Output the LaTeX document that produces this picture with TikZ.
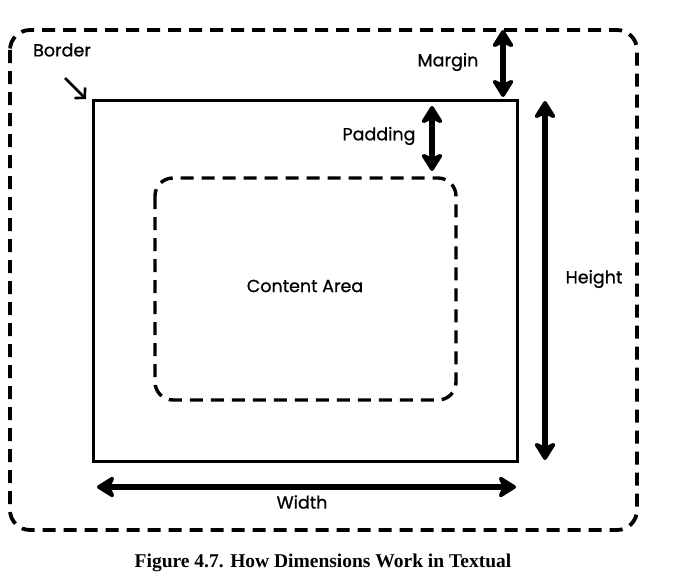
\documentclass[tikz,border=0pt]{standalone}
\usepackage{fontspec}
\setmainfont{Liberation Serif}
\newfontfamily\handfont[BoldFont=Poppins, BoldFeatures={FakeBold=0.8}]{Poppins}
\usetikzlibrary{arrows.meta}
\tikzset{
  dashbox/.style={draw=black, line width=3.8pt, dash pattern=on 13pt off 8pt, rounded corners=20pt},
  borderbox/.style={draw=black, line width=3pt},
  dimarrow/.style={line width=6pt, {Stealth[length=21pt,width=26pt,inset=6pt,round]}-{Stealth[length=21pt,width=26pt,inset=6pt,round]}},
  lbl/.style={font=\handfont\bfseries\fontsize{17.5pt}{20pt}\selectfont, inner sep=0pt},
}
\begin{document}
\begin{tikzpicture}[x=1pt,y=-1pt]
\useasboundingbox (0,0) rectangle (690,578);
\fill[white] (0,0) rectangle (690,578);
% outer margin box
\draw[dashbox] (10,30) rectangle (637,530);
% border box
\draw[borderbox] (93,100) rectangle (517,461);
% content box
\draw[dashbox, rounded corners=18pt, line width=3.4pt] (155,178) rectangle (456,400);
\node[lbl] (content) at (305,286) {Content Area};
% border label
\node[lbl] (border) at (62,50) {Border};
\coordinate (ba1) at (65,78);
\coordinate (ba2) at (86,99);
\draw[line width=2.6pt, -{Straight Barb[length=7pt,width=15pt]}] (ba1) -- (ba2);
% margin
\coordinate (m1) at (503,30);
\coordinate (m2) at (503,97);
\draw[dimarrow] (m1) -- (m2);
\node[lbl] (margin) at (448,62) {Margin};
% padding
\coordinate (p1) at (432,106);
\coordinate (p2) at (432,171);
\draw[dimarrow] (p1) -- (p2);
\node[lbl] (padding) at (379,136) {Padding};
% height
\coordinate (h1) at (545,101);
\coordinate (h2) at (545,460);
\draw[dimarrow] (h1) -- (h2);
\node[lbl] (height) at (594,279) {Height};
% width
\coordinate (w1) at (97,487);
\coordinate (w2) at (516,487);
\draw[dimarrow] (w1) -- (w2);
\node[lbl] (width) at (302,502) {Width};
% caption
\node[font=\bfseries\fontsize{19.5pt}{22pt}\selectfont, inner sep=0pt] (cap) at (323,563) {Figure 4.7. How Dimensions Work in Textual};
\end{tikzpicture}
\end{document}
